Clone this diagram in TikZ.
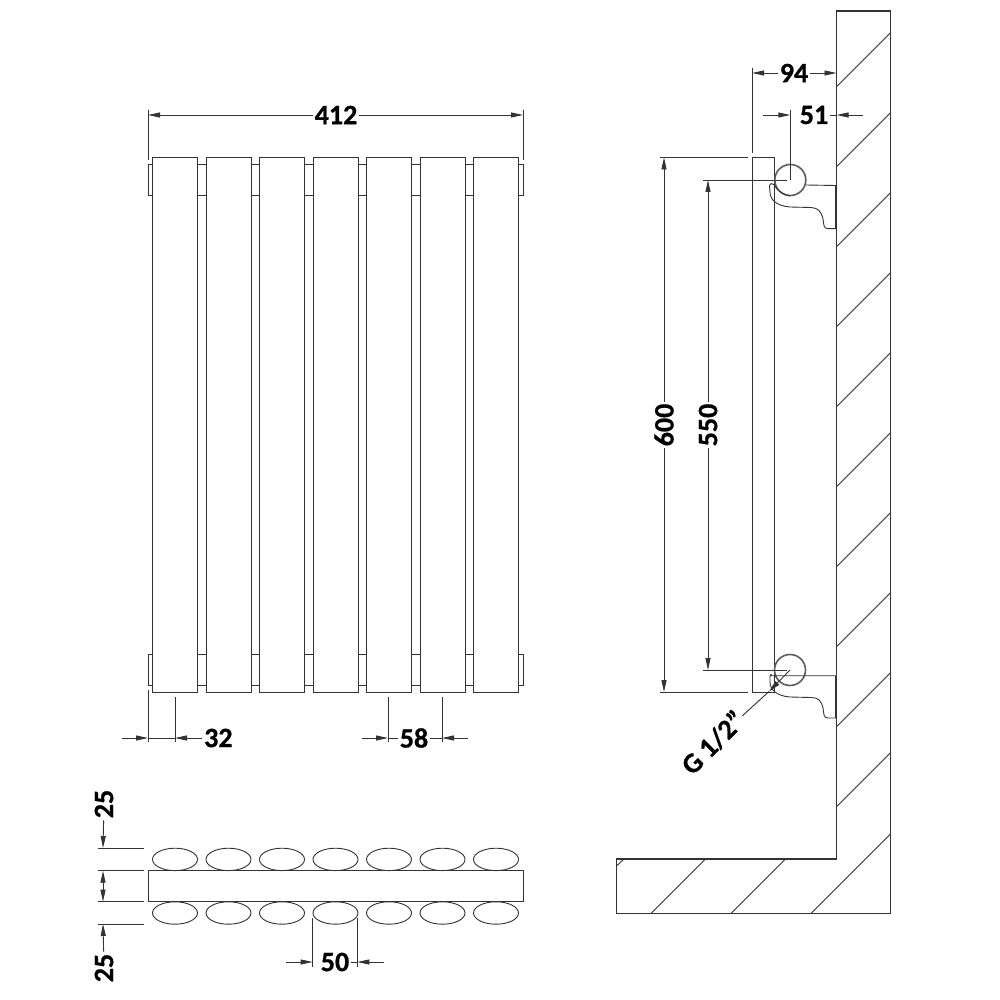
\documentclass[tikz,border=0pt]{standalone}
\usepackage{fontspec}
\setmainfont{Carlito}[Ligatures=ResetAll,BoldFeatures={FakeBold=0.8}]
\usetikzlibrary{shapes.geometric}
\usetikzlibrary{arrows.meta}
\definecolor{ink}{HTML}{333333}
\tikzstyle{panel} = [rectangle, minimum width=45pt, minimum height=534.5pt, inner sep=0pt, draw=ink, line width=1pt]
\tikzstyle{oval} = [ellipse, minimum width=45pt, minimum height=22.4pt, inner sep=0pt, draw=ink, line width=0.9pt]
\tikzstyle{dimtext} = [font=\fontsize{28}{28}\selectfont\bfseries, text=black, inner sep=2pt]
\tikzstyle{line} = [draw=ink, line width=0.9pt]
\tikzstyle{arrow} = [line, ->, >={Stealth[length=12pt,width=5pt,inset=0pt]}]
\tikzstyle{pipe} = [circle, minimum size=31pt, inner sep=0pt, draw=ink!80, line width=1.6pt]
\begin{document}
\begin{tikzpicture}[x=1pt,y=-1pt]
        \useasboundingbox (0,0) rectangle (1000,1000);
        \fill [white] (0,0) rectangle (1000,1000);

        % front view
        \foreach \i in {1,...,7} {
            \node (panel\i) [panel] at ({175+53.5*(\i-1)},424.8) {};
        }
        \coordinate (taba) at (0,164.5);
        \coordinate (tabb) at (0,195.5);
        \coordinate (tabc) at (0,654);
        \coordinate (tabd) at (0,685.5);
        \foreach \i/\j in {1/2,2/3,3/4,4/5,5/6,6/7} {
            \foreach \t in {taba,tabb,tabc,tabd} {
                \draw [line] (panel\i.east |- \t) -- (panel\j.west |- \t);
            }
        }
        \coordinate (leftend) at (148,0);
        \coordinate (rightend) at (523,0);
        \foreach \s/\t in {taba/tabb,tabc/tabd} {
            \draw [line] (panel1.west |- \s) -| (leftend |- \t) -- (panel1.west |- \t);
            \draw [line] (panel7.east |- \s) -| (rightend |- \t) -- (panel7.east |- \t);
        }

        % 412
        \node (widthlabel) [dimtext] at (336,115) {412};
        \coordinate (widthl) at (148,115);
        \coordinate (widthr) at (523,115);
        \draw [line] (148,110) -- (148,160);
        \draw [line] (523,110) -- (523,160);
        \draw [arrow] (widthlabel) -- (widthl);
        \draw [arrow] (widthlabel) -- (widthr);

        % 32 and 58
        \node (tablabel) [dimtext, anchor=west] at (202,738) {32};
        \coordinate (tabl) at (148,738);
        \coordinate (tabr) at (175,738);
        \coordinate (tabout) at (122,738);
        \draw [line] (148,690) -- (148,742);
        \draw [line] (175,697) -- (175,742);
        \draw [line] (tabl) -- (tabr);
        \draw [arrow] (tabout) -- (tabl);
        \draw [arrow] (tablabel) -- (tabr);

        \node (pitchlabel) [dimtext] at (414,738) {58};
        \coordinate (pitchl) at (388,738);
        \coordinate (pitchr) at (442,738);
        \coordinate (pitchoutl) at (362,738);
        \coordinate (pitchoutr) at (468,738);
        \draw [line] (388,697) -- (388,742);
        \draw [line] (442,697) -- (442,742);
        \draw [arrow] (pitchoutl) -- (pitchl);
        \draw [arrow] (pitchoutr) -- (pitchr);
        \draw [line] (pitchlabel) -- (pitchl);
        \draw [line] (pitchlabel) -- (pitchr);

        % plan view
        \node (bar) [rectangle, minimum width=375pt, minimum height=31pt, inner sep=0pt, draw=ink, line width=1pt] at (335.5,886.2) {};
        \foreach \i in {1,...,7} {
            \node (upper\i) [oval] at ({175+53.5*(\i-1)},859.4) {};
            \node (lower\i) [oval] at ({175+53.5*(\i-1)},913) {};
        }
        \foreach \y in {848,870.7,901.7,924} {
            \draw [line] (98,\y) -- (143.5,\y);
        }
        \coordinate (deptha) at (103,848);
        \coordinate (depthb) at (103,870.7);
        \coordinate (depthc) at (103,901.7);
        \coordinate (depthd) at (103,924);
        \node (uplabel) [dimtext, rotate=90] at (104,804) {25};
        \node (lowlabel) [dimtext, rotate=90] at (104,968) {25};
        \draw [arrow] (uplabel) -- (deptha);
        \draw [arrow] (lowlabel) -- (depthd);
        \draw [line, <->, >={Stealth[length=12pt,width=5pt,inset=0pt]}] (depthb) -- (depthc);

        % 50
        \node (ovallabel) [dimtext] at (335,962) {50};
        \coordinate (ovall) at (312.7,962);
        \coordinate (ovalr) at (357.3,962);
        \coordinate (ovaloutl) at (286,962);
        \coordinate (ovaloutr) at (384,962);
        \draw [line] (312.7,918) -- (312.7,967);
        \draw [line] (357.3,918) -- (357.3,967);
        \draw [arrow] (ovaloutl) -- (ovall);
        \draw [arrow] (ovaloutr) -- (ovalr);
        \draw [line] (ovallabel) -- (ovalr);

        % wall
        \draw [line, line width=1.1pt] (836.5,11) -- (890.7,11) -- (890.7,913.5) -- (616.5,913.5) -- (616.5,859) -- (836.5,859) -- cycle;
        \foreach \y in {86.7,166.7,...,806.7} {
            \draw [line] (836.5,\y) -- (890.7,\y-54.2);
        }
        \draw [line] (651,913.5) -- (705.5,859);
        \draw [line] (731,913.5) -- (785.5,859);
        \draw [line] (811,913.5) -- (890.7,833.8);
        \draw [line] (616.5,866) -- (624,859);

        % side view
        \draw [line] (752,157.5) rectangle (774.5,692);
        \node (pipetop) [pipe] at (790.3,180) {};
        \node (pipelow) [pipe] at (790,670) {};

        % brackets
        \draw [line] (806,185) -- (835.5,185.5) -- (835.5,228.7) -- (828,228.7) .. controls (823,228.7) and (824,224) .. (823,219) .. controls (821,211) and (818,208) .. (811,207.5) -- (790,207) .. controls (777,206) and (770,200) .. (770,192) -- (769.5,186) .. controls (770,183) and (773,183) .. (774.5,185) .. controls (778,192) and (784,195) .. (790,196);
        \draw [line] (772,675.7) -- (835.5,675.7) -- (835.5,718) -- (828,718) .. controls (823,718) and (824,713) .. (823,708) .. controls (821,700) and (818,697.5) .. (811,697.5) -- (790,697) .. controls (777,696) and (770,690) .. (770,682) -- (770,677) .. controls (770,674) and (772,674) .. (772,675.7);

        % 94 and 51
        \node (reachlabel) [dimtext] at (794,73) {94};
        \coordinate (reachl) at (752,73);
        \coordinate (reachr) at (836.5,73);
        \draw [line] (752,68) -- (752,153);
        \draw [arrow] (reachlabel) -- (reachl);
        \draw [arrow] (reachlabel) -- (reachr);

        \node (pipelabel) [dimtext] at (814,115) {51};
        \coordinate (pipel) at (790.3,115);
        \coordinate (piper) at (836.5,115);
        \coordinate (pipeoutl) at (763,115);
        \coordinate (pipeoutr) at (863,115);
        \draw [line] (790.3,110) -- (pipetop.center);
        \draw [arrow] (pipeoutl) -- (pipel);
        \draw [arrow] (pipeoutr) -- (piper);
        \draw [line] (pipelabel) -- (piper);

        % 600 and 550
        \node (heightlabel) [dimtext, rotate=90, fill=white] at (664,425) {600};
        \coordinate (heightt) at (664,157.5);
        \coordinate (heightb) at (664,692);
        \draw [line] (660,157.5) -- (748,157.5);
        \draw [line] (660,692) -- (748,692);
        \draw [arrow] (heightlabel) -- (heightt);
        \draw [arrow] (heightlabel) -- (heightb);

        \node (centrelabel) [dimtext, rotate=90, fill=white] at (708,425) {550};
        \coordinate (centret) at (708,180);
        \coordinate (centreb) at (708,670);
        \draw [line] (703,180) -- (787,180);
        \draw [line] (703,670) -- (787,670);
        \draw [arrow] (centrelabel) -- (centret);
        \draw [arrow] (centrelabel) -- (centreb);

        % G 1/2"
        \node (threadlabel) [dimtext, rotate=45, inner sep=1pt] at (713,742.5) {G 1/2"};
        \coordinate (threadtip) at (769,691.5);
        \draw [arrow] (pipelow.center) -- (threadtip);
        \draw [line] (threadtip) -- (threadlabel);
\end{tikzpicture}
\end{document}
